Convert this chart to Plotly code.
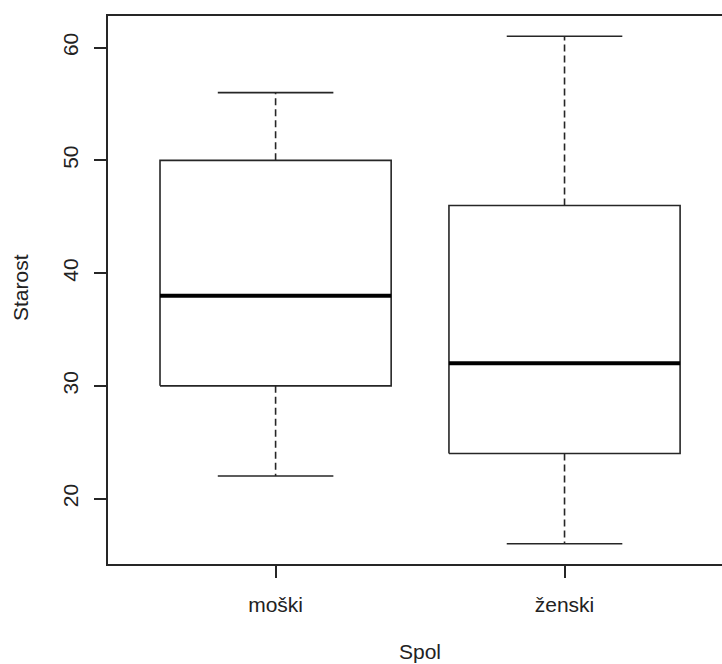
import plotly.graph_objects as go

categories = ["moški", "ženski"]
positions = [1, 2]
lower_whisker = [22, 16]
q1 = [30, 24]
median = [38, 32]
q3 = [50, 46]
upper_whisker = [56, 61]
y_ticks = [20, 30, 40, 50, 60]

BOX_HALF = 0.4
CAP_HALF = 0.2
INK = "#262626"
FONT = "Liberation Sans, Arial, sans-serif"

fig = go.Figure()
for i, c in enumerate(positions):
    # whiskers (dashed)
    fig.add_trace(go.Scatter(x=[c, c, None, c, c],
                             y=[q3[i], upper_whisker[i], None, q1[i], lower_whisker[i]],
                             mode="lines", line=dict(color=INK, width=1.6, dash="7px,4px"),
                             hoverinfo="skip", showlegend=False))
    # caps
    fig.add_trace(go.Scatter(x=[c - CAP_HALF, c + CAP_HALF, None, c - CAP_HALF, c + CAP_HALF],
                             y=[upper_whisker[i], upper_whisker[i], None, lower_whisker[i], lower_whisker[i]],
                             mode="lines", line=dict(color=INK, width=1.6),
                             hoverinfo="skip", showlegend=False))
    # box
    fig.add_trace(go.Scatter(x=[c - BOX_HALF, c + BOX_HALF, c + BOX_HALF, c - BOX_HALF, c - BOX_HALF],
                             y=[q1[i], q1[i], q3[i], q3[i], q1[i]],
                             mode="lines", line=dict(color=INK, width=1.6),
                             hoverinfo="skip", showlegend=False))
    # median
    fig.add_trace(go.Scatter(x=[c - BOX_HALF, c + BOX_HALF], y=[median[i], median[i]],
                             mode="lines", line=dict(color="#000000", width=4),
                             hoverinfo="skip", showlegend=False))

fig.update_layout(
    width=722, height=664,
    margin=dict(l=108, r=0, t=16, b=100),
    paper_bgcolor="white", plot_bgcolor="white",
    font=dict(family=FONT, size=21, color="#222222"),
    xaxis=dict(range=[0.42, 2.545], tickmode="array", tickvals=positions, ticktext=categories,
               showline=True, linecolor=INK, linewidth=1.6, mirror=True,
               ticks="outside", ticklen=12, tickwidth=1.6, tickcolor=INK,
               showgrid=False, zeroline=False, ticklabelstandoff=9,
               tickfont=dict(size=21)),
    yaxis=dict(range=[14.2, 62.8], tickmode="array", tickvals=y_ticks,
               ticktext=[str(v) for v in y_ticks],
               showline=True, linecolor=INK, linewidth=1.6, mirror=False,
               ticks="outside", ticklen=12, tickwidth=1.6, tickcolor=INK,
               showgrid=False, zeroline=False, tickangle=-90, ticklabelstandoff=8,
               tickfont=dict(size=21)),
    annotations=[
        dict(text="Spol", xref="paper", yref="paper", x=(420 - 108) / 614, y=-(651 - 564) / 548,
             xanchor="center", yanchor="middle", showarrow=False, font=dict(size=21)),
        dict(text="Starost", xref="paper", yref="paper", x=(20 - 108) / 614, y=(564 - 288) / 548,
             xanchor="center", yanchor="middle", textangle=-90, showarrow=False, font=dict(size=21)),
    ],
)

fig.write_html("out.html", config={"displayModeBar": False},
               post_script="document.body.style.margin='0';document.body.style.overflow='hidden';")
